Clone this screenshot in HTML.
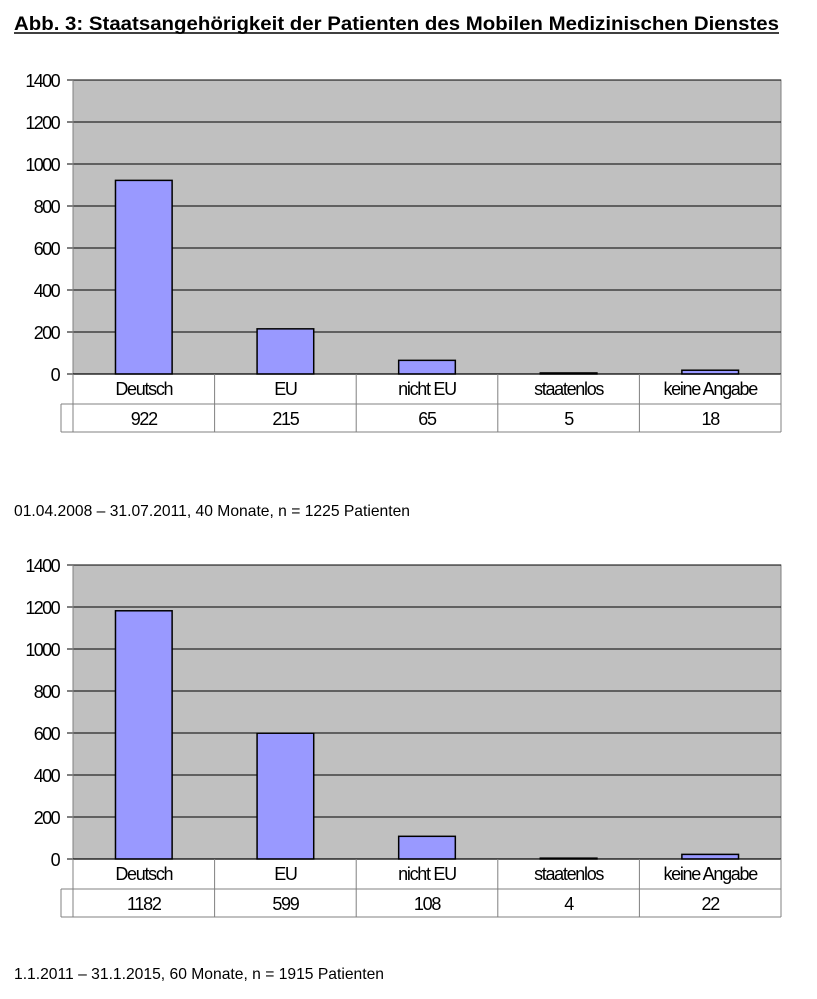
<!DOCTYPE html>
<html><head><meta charset="utf-8"><style>
body{margin:0;background:#fff;width:817px;height:999px;overflow:hidden;font-family:"Liberation Sans",Arial,sans-serif}
svg{position:absolute;left:0;top:0}
</style></head><body>
<svg id="s" width="817" height="999">
<text x="14" y="30" font-size="19" font-weight="bold" textLength="765" lengthAdjust="spacingAndGlyphs" font-family="Liberation Sans, sans-serif">Abb. 3: Staatsangehörigkeit der Patienten des Mobilen Medizinischen Dienstes</text>
<line x1="14" x2="779" y1="33" y2="33" stroke="#000" stroke-width="1.5"/>
<text x="14" y="516" font-size="16" textLength="396" lengthAdjust="spacingAndGlyphs" font-family="Liberation Sans, sans-serif">01.04.2008 – 31.07.2011, 40 Monate, n = 1225 Patienten</text>
<text x="14" y="979" font-size="16" textLength="370" lengthAdjust="spacingAndGlyphs" font-family="Liberation Sans, sans-serif">1.1.2011 – 31.1.2015, 60 Monate, n = 1915 Patienten</text>
</svg>
<script>
const categories=["Deutsch","EU","nicht EU","staatenlos","keine Angabe"];
const values1=[922,215,65,5,18];
const values2=[1182,599,108,4,22];
const ticks=[0,200,400,600,800,1000,1200,1400];
const NS="http://www.w3.org/2000/svg";
const svg=document.getElementById('s');
function mk(tag,attrs,parent){const e=document.createElementNS(NS,tag);for(const k in attrs)e.setAttribute(k,attrs[k]);(parent||svg).appendChild(e);return e;}
function chart(top,vals,idx){
  const L=73,R=781,B=top+294,H=294,max=1400;
  const y=v=>B-v/max*H;
  const cw=(R-L)/categories.length;
  const x=i=>L+i*cw;
  const g=mk('g',{});
  
  
  const bg=mk('rect',{x:L,y:top,width:R-L,height:H,fill:'#c0c0c0',stroke:'#808080','stroke-width':1},g);
  
  
  ticks.forEach(t=>{
    const gl=mk('line',{x1:L-6,x2:(t===0?L:R),y1:y(t),y2:y(t),stroke:'#000','stroke-width':1},g);
    
    
    const tx=mk('text',{x:L-14,y:y(t)+7,'text-anchor':'end','font-size':18,'letter-spacing':'-1.6'},g);
    tx.textContent=t;
    
    
  });
  mk('line',{x1:L,x2:L,y1:top,y2:B,stroke:'#808080'},g);
  vals.forEach((v,i)=>{
    const bx=x(i)+cw*0.3,bw=cw*0.4;
    const b=mk('rect',{x:bx,y:y(v),width:bw,height:B-y(v),fill:'#9999ff',stroke:'#000','stroke-width':1.5},g);
    
    
  });
  mk('line',{x1:L,x2:R,y1:B,y2:B,stroke:'#000','stroke-width':1.2},g);
  const r1=B+30,r2=B+58;
  mk('line',{x1:61,x2:R,y1:r1,y2:r1,stroke:'#808080'},g);
  mk('line',{x1:61,x2:R,y1:r2,y2:r2,stroke:'#808080'},g);
  mk('line',{x1:61,x2:61,y1:r1,y2:r2,stroke:'#808080'},g);
  for(let i=0;i<=categories.length;i++){
    mk('line',{x1:x(i),x2:x(i),y1:B,y2:r2,stroke:'#808080'},g);
  }
  categories.forEach((c,i)=>{
    const t=mk('text',{x:x(i)+cw/2,y:B+21,'text-anchor':'middle','font-size':18,'letter-spacing':'-1.3'},g);
    t.textContent=c;
    
    
    const t2=mk('text',{x:x(i)+cw/2,y:r1+21,'text-anchor':'middle','font-size':18,'letter-spacing':'-1.3'},g);
    t2.textContent=vals[i];
    
    
  });
}
chart(80,values1,1);
chart(565,values2,2);
</script>
</body></html>
